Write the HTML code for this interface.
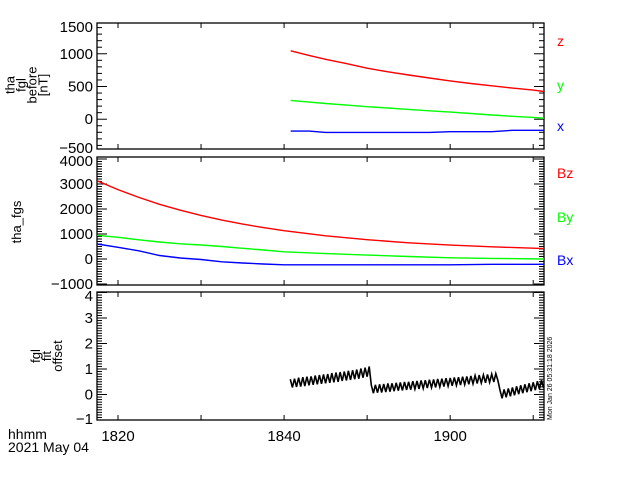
<!DOCTYPE html>
<html><head><meta charset="utf-8"><style>
body{margin:0;background:#fff}
svg{display:block;font-family:"Liberation Sans",sans-serif}
</style></head><body>
<svg id="c" width="640" height="480" viewBox="0 0 640 480"></svg>
<script>
// ---- data (time in minutes after 18:00) ----
const timeTicks = [20, 30, 40, 50, 60, 70];
const timeTickLabels = {20:"1820", 40:"1840", 60:"1900"};
const fglTimes = [40.8, 43, 45, 47.5, 50, 52.5, 55, 57.5, 60, 62.5, 65, 67.5, 70, 71.3];
const fglZ = [1045, 975, 915, 850, 780, 725, 675, 630, 585, 545, 510, 475, 445, 424];
const fglY = [288, 262, 240, 215, 192, 172, 150, 128, 108, 88, 65, 45, 28, 15];
const fglX = [-182, -182, -202, -202, -202, -202, -202, -202, -190, -190, -190, -170, -170, -170];
const fgsTimes = [17.5, 20, 22.5, 25, 27.5, 30, 32.5, 35, 37.5, 40, 45, 50, 55, 60, 65, 71.3];
const fgsBz = [3130, 2775, 2464, 2190, 1952, 1742, 1558, 1396, 1255, 1131, 927, 771, 650, 558, 486, 417];
const fgsBy = [950, 870, 770, 680, 610, 560, 500, 430, 360, 290, 215, 155, 100, 50, 25, 0];
const fgsBx = [600, 470, 330, 140, 40, -20, -110, -160, -200, -230, -230, -230, -230, -230, -210, -210];
const offStart = 40.75, offStep = 0.25;
const offsetVals = [
0.60,0.28,0.62,0.30,0.66,0.31,0.68,0.33,0.70,0.36,0.71,0.38,0.74,0.40,0.76,0.42,0.79,0.44,0.80,0.46,0.84,0.48,0.86,0.50,0.88,0.53,0.90,0.55,0.93,0.57,0.95,0.60,0.98,0.62,1.02,0.66,1.05,0.70,1.10,
0.37,0.05,0.38,0.07,0.40,0.08,0.41,0.10,0.43,0.11,0.44,0.13,0.46,0.15,0.47,0.16,0.49,0.18,0.50,0.19,0.52,0.21,0.53,0.22,0.55,0.24,0.56,0.25,0.58,0.27,0.59,0.28,0.61,0.30,0.62,0.31,0.64,0.33,0.65,0.34,0.67,0.36,0.68,0.37,0.70,0.39,0.71,0.40,0.73,0.42,0.74,0.43,0.76,0.45,0.77,0.46,0.79,0.48,0.80,0.49,0.82,0.55,
0.17,-0.15,0.20,-0.11,0.24,-0.07,0.28,-0.03,0.32,0.01,0.36,0.05,0.40,0.09,0.44,0.13,0.48,0.17,0.52,0.21,0.56,0.25];

const NS="http://www.w3.org/2000/svg";
const svg=document.getElementById('c');
function el(tag,attrs,parent){const e=document.createElementNS(NS,tag);for(const k in attrs)e.setAttribute(k,attrs[k]);(parent||svg).appendChild(e);return e;}
const X0=97,X1=544,T0=17.47,T1=71.3;
const xs=t=>X0+(t-T0)/(T1-T0)*(X1-X0);

const panels=[
 {name:'fgl-before-panel',top:23,bot:149,vmin:-455,vmax:1470,major:500,minor:100,labels:[-500,0,500,1000,1500]},
 {name:'fgs-panel',top:157,bot:285,vmin:-1040,vmax:4080,major:1000,minor:100,labels:[-1000,0,1000,2000,3000,4000]},
 {name:'fit-offset-panel',top:292,bot:420,vmin:-1,vmax:4.02,major:1,minor:0.1,labels:[-1,0,1,2,3,4]}
];
panels.forEach((p,pi)=>{
 const g=el('g',{});
 
 
 p.ys=v=>p.bot-(v-p.vmin)/(p.vmax-p.vmin)*(p.bot-p.top);
 const fr=el('rect',{x:X0,y:p.top,width:X1-X0,height:p.bot-p.top,fill:'none',stroke:'#000','stroke-width':1.3},g);
 
 
 const n0=Math.ceil(p.vmin/p.minor-1e-6), n1=Math.floor(p.vmax/p.minor+1e-6);
 for(let n=n0;n<=n1;n++){
  const v=n*p.minor; const y=p.ys(v);
  const isMaj=Math.abs(v/p.major-Math.round(v/p.major))<1e-6;
  const L=isMaj?10:5;
  el('line',{x1:X0,x2:X0+L,y1:y,y2:y,stroke:'#000','stroke-width':1},g);
  el('line',{x1:X1,x2:X1-L,y1:y,y2:y,stroke:'#000','stroke-width':1},g);
 }
 p.labels.forEach(v=>{
  let y=p.ys(v)+5;
  if(y<p.top+9) y=p.top+9;
  if(y>p.bot+4) y=p.bot+4;
  const t=el('text',{x:93,y:y,'text-anchor':'end','font-size':15},g);
  t.textContent=(v<0?'\u2212':'')+Math.abs(v);
  
  
 });
 timeTicks.forEach(tm=>{
  const x=xs(tm);
  el('line',{x1:x,x2:x,y1:p.top,y2:p.top+5,stroke:'#000'},g);
  el('line',{x1:x,x2:x,y1:p.bot,y2:p.bot-5,stroke:'#000'},g);
 });
});
function line(p,times,vals,color,name,w){
 let d='';
 for(let i=0;i<times.length;i++){d+=(i?'L':'M')+xs(times[i]).toFixed(1)+' '+p.ys(vals[i]).toFixed(1);}
 const e=el('path',{d:d,fill:'none',stroke:color,'stroke-width':w||1.4});
 
 
}
line(panels[0],fglTimes,fglZ,'#ff0000','series-z');
line(panels[0],fglTimes,fglY,'#00ff00','series-y');
line(panels[0],fglTimes,fglX,'#0000ff','series-x');
line(panels[1],fgsTimes,fgsBz,'#ff0000','series-bz');
line(panels[1],fgsTimes,fgsBy,'#00ff00','series-by');
line(panels[1],fgsTimes,fgsBx,'#0000ff','series-bx');
line(panels[2],offsetVals.map((v,i)=>offStart+offStep*i),offsetVals,'#000','series-offset',1.6);

timeTicks.forEach(tm=>{
 if(!timeTickLabels[tm])return;
 const t=el('text',{x:xs(tm),y:441,'text-anchor':'middle','font-size':15});
 t.textContent=timeTickLabels[tm];
 
 
});
function txt(x,y,s,attrs,name){const t=el('text',Object.assign({x:x,y:y,'font-size':14},attrs||{}));t.textContent=s;return t;}
txt(8,439,'hhmm',{'font-size':14},'x-axis-format-label');
txt(8,452,'2021 May 04',{'font-size':14},'date-label');
txt(557,46,'z',{fill:'#ff0000'},'legend-z');
txt(557,90,'y',{fill:'#00ff00'},'legend-y');
txt(557,131,'x',{fill:'#0000ff'},'legend-x');
txt(557,178,'Bz',{fill:'#ff0000'},'legend-bz');
txt(557,222,'By',{fill:'#00ff00'},'legend-by');
txt(557,265,'Bx',{fill:'#0000ff'},'legend-bx');
function ytitle(cx,cy,lines,name){
 const g=el('g',{transform:`translate(${cx},${cy}) rotate(-90)`});
 
 
 lines.forEach((s,i)=>{const t=el('text',{x:0,y:(i-(lines.length-1)/2)*11+4,'text-anchor':'middle','font-size':13},g);t.textContent=s;});
}
ytitle(27,85,['tha','fgl','before','[nT]'],'y-axis-title-fgl-before');
ytitle(17,222,['tha_fgs'],'y-axis-title-fgs');
ytitle(47,356,['fgl','fit','offset'],'y-axis-title-offset');
const ts=el('text',{transform:'translate(552,420) rotate(-90)','font-size':7});
ts.textContent='Mon Jan 26 05:31:18 2026';


</script>
</body></html>
